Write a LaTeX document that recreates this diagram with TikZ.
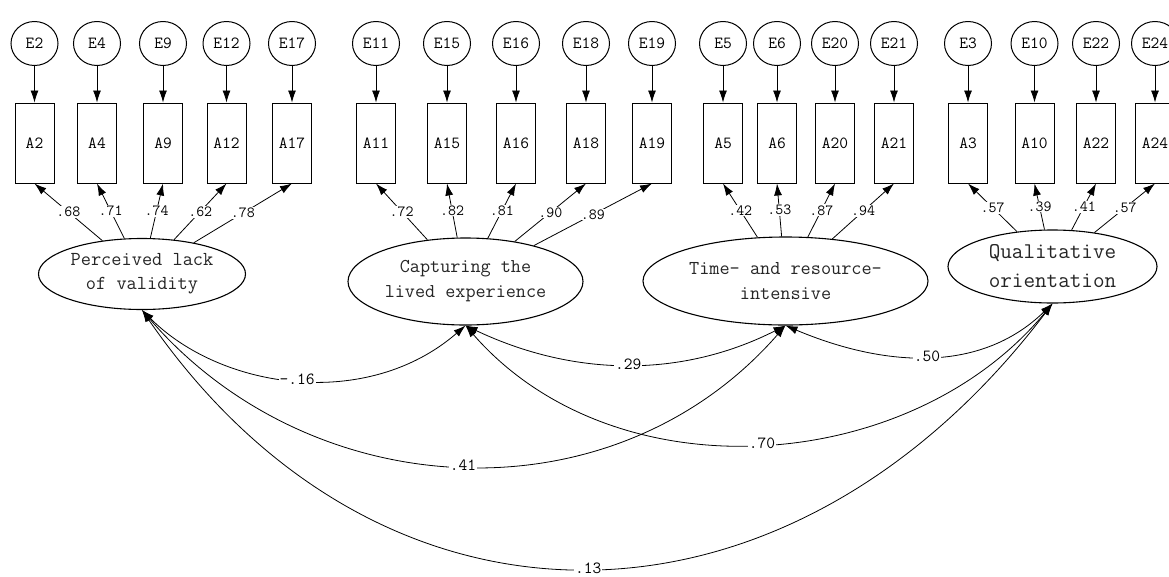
\documentclass[tikz,border=0pt]{standalone}
\usepackage{fontspec}
\usetikzlibrary{arrows.meta,shapes.geometric}
\tikzset{
  errv/.style={ellipse, draw, line width=1pt, minimum width=47pt, minimum height=44pt, inner sep=0pt, font=\ttfamily\fontsize{17}{18}\selectfont},
  obsv/.style={rectangle, draw, line width=1pt, minimum width=39pt, minimum height=80pt, inner sep=0pt, font=\ttfamily\fontsize{17}{18}\selectfont},
  latv/.style={ellipse, draw, line width=1.1pt, inner sep=0pt, align=center, text=black!85},
  ldlab/.style={fill=white, inner sep=1pt, font=\ttfamily\fontsize{15.5}{16}\selectfont},
  cvlab/.style={fill=white, inner sep=1pt, font=\ttfamily\fontsize{17}{18}\selectfont},
  arr/.style={-{Latex[length=12pt,width=8pt]}, line width=0.8pt},
  cov/.style={{Latex[length=12pt,width=8pt]}-{Latex[length=12pt,width=8pt]}, line width=0.8pt}
}
\begin{document}
\begin{tikzpicture}[x=1pt,y=-1pt]
\useasboundingbox (0,0) rectangle (1169,576);
\clip (0,0) rectangle (1169,576);
\fill[white] (0,0) rectangle (1169,576);

% latent variables
\node[latv, minimum width=207pt, minimum height=71pt, font=\ttfamily\fontsize{19.8}{24}\selectfont] (L1) at (142,274) {Perceived lack\\of validity};
\node[latv, minimum width=235pt, minimum height=87pt, font=\ttfamily\fontsize{19.6}{25}\selectfont] (L2) at (465.5,281.5) {Capturing the\\lived experience};
\node[latv, minimum width=285pt, minimum height=88pt, font=\ttfamily\fontsize{19.7}{25}\selectfont] (L3) at (785.5,281) {Time- and resource-\\intensive};
\node[latv, minimum width=209pt, minimum height=73pt, font=\ttfamily\fontsize{22.5}{29}\selectfont] (L4) at (1052.5,266.5) {Qualitative\\orientation};

% indicators, errors and loadings
\foreach \n/\x/\l/\c in {2/34.5/.68/1, 4/97/.71/1, 9/163/.74/1, 12/226.5/.62/1, 17/292/.78/1,
                         11/376/.72/2, 15/447/.82/2, 16/516/.81/2, 18/586/.90/2, 19/652/.89/2,
                         5/723/.42/3, 6/777/.53/3, 20/835/.87/3, 21/894/.94/3,
                         3/968/.57/4, 10/1034.5/.39/4, 22/1096/.41/4, 24/1155/.57/4}{
  \node[errv] (E\n) at (\x,43.5) {E\n};
  \node[obsv] (A\n) at (\x,143) {A\n};
  \draw[arr] (E\n) -- (A\n);
  \draw[arr] (L\c) -- node[ldlab] {\l} (A\n.south);
}

% covariances
\draw[cov] (L1.south) .. controls +(80,80) and +(-98,85) .. node[cvlab] {-.16} (L2.south);
\draw[cov] (L2.south) .. controls +(110,52) and +(-103,52) .. node[cvlab] {.29} (L3.south);
\draw[cov] (L3.south) .. controls +(95,40) and +(-74,72) .. node[cvlab] {.50} (L4.south);
\draw[cov] (L1.south) .. controls +(170,197) and +(-172,197) .. node[cvlab] {.41} (L3.south);
\draw[cov] (L2.south) .. controls +(150,172) and +(-142,172) .. node[cvlab] {.70} (L4.south);
\draw[cov] (L1.south) .. controls +(240,348) and +(-264,348) .. node[cvlab] {.13} (L4.south);
\end{tikzpicture}
\end{document}
